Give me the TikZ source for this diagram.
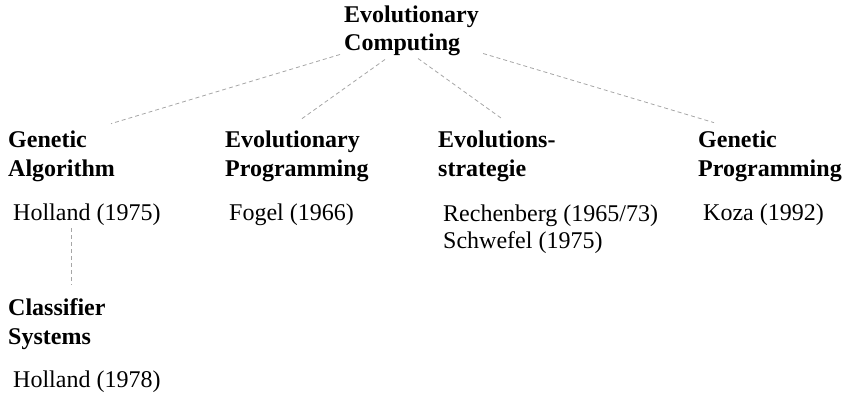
\documentclass[tikz,border=0pt]{standalone}
\usepackage{fontspec}
\setmainfont{Liberation Serif}
\usetikzlibrary{calc}

\begin{document}
\begin{tikzpicture}[x=1pt, y=1pt,
    every node/.style={inner sep=0, anchor=base west, align=left, font=\fontsize{24}{27}\selectfont},
    field/.style={font=\fontsize{24}{28.5}\selectfont\bfseries},
    link/.style={draw=gray!70, dash pattern=on 4pt off 3pt, line width=0.8pt}]
    \useasboundingbox (0,0) rectangle (846,-393);
    % base anchor sits on the last line
    \node[field] (ec) at (344,-51) {Evolutionary\\Computing};
    \node[field] (ga) at (8,-176) {Genetic\\Algorithm};
    \node[field] (ep) at (225,-176) {Evolutionary\\Programming};
    \node[field] (es) at (438,-176) {Evolutions-\\strategie};
    \node[field] (gp) at (698,-176) {Genetic\\Programming};
    \node (hol75) at (13,-220) {Holland (1975)};
    \node (fog) at (229,-220) {Fogel (1966)};
    \node (rech) at (443,-248) {Rechenberg (1965/73)\\Schwefel (1975)};
    \node (koza) at (703,-220) {Koza (1992)};
    \node[field] (cs) at (8,-344) {Classifier\\Systems};
    \node (hol78) at (13,-387) {Holland (1978)};
    % dashed links
    \draw[link] ($(ec.south west)+(-4,2)$) -- ($(ga.north east)+(-4,7)$);
    \draw[link] ($(ec.south west)+(41,-3)$) -- ($(ep.north)+(5,12)$);
    \draw[link] ($(ec.south west)+(74,-2)$) -- ($(es.north)+(5,12)$);
    \draw[link] ($(ec.south east)+(4,3)$) -- ($(gp.north west)+(16,8)$);
    \draw[link] ($(hol75.south west)+(58,-3)$) -- ($(cs.north west)+(63,14)$);
\end{tikzpicture}
\end{document}
